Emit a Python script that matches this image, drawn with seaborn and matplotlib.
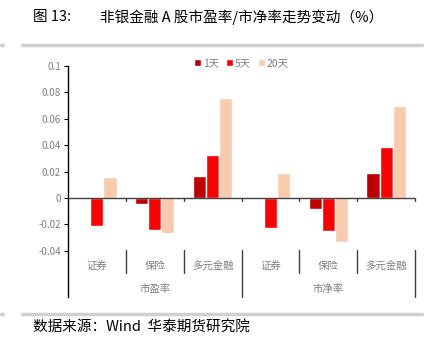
import matplotlib
matplotlib.use("Agg")
import matplotlib.pyplot as plt
import seaborn as sns
import pandas as pd
import numpy as np

groups = ["市盈率", "市净率"]
subcats = ["证券", "保险", "多元金融"]
periods = ["1天", "5天", "20天"]
val_1d = [0.001, -0.0045, 0.017, 0.0, -0.0083, 0.019]
val_5d = [-0.0213, -0.024, 0.0326, -0.023, -0.0248, 0.039]
val_20d = [0.016, -0.0266, 0.0755, 0.019, -0.033, 0.070]
yticks = [-0.04, -0.02, 0, 0.02, 0.04, 0.06, 0.08, 0.1]
ytick_labels = ["-0.04", "-0.02", "0", "0.02", "0.04", "0.06", "0.08", "0.1"]
colors = ["#C00000", "#FF0000", "#F8CBAD"]

cats = [f"{g}-{s}" for g in groups for s in subcats]
rows = []
for p, vals in zip(periods, [val_1d, val_5d, val_20d]):
    for c, v in zip(cats, vals):
        rows.append({"cat": c, "period": p, "val": v})
df = pd.DataFrame(rows)

sns.set_style("white")
plt.rcParams['font.family'] = ['Noto Sans CJK SC', 'DejaVu Sans']

W, H = 436, 353
fig = plt.figure(figsize=(W / 100, H / 100), dpi=100)
ax = fig.add_axes([68 / W, (H - 297) / H, (415 - 68) / W, (297 - 66) / H])

sns.barplot(data=df, x="cat", y="val", hue="period", order=cats, hue_order=periods,
            palette=colors, width=0.68, ax=ax, legend=True, saturation=1)

ax.set_ylim(-0.075, 0.1)
ax.set_xlim(-0.5, len(cats) - 0.5)
ax.set_yticks(yticks)
ax.set_yticklabels(ytick_labels)
ax.tick_params(axis="y", direction="out", length=3, width=0.8, color="#000000",
               labelsize=7, labelcolor="#7F7F7F", pad=2, left=True)
ax.set_xticks([])
ax.set_xlabel("")
ax.set_ylabel("")
for s in ["top", "right", "bottom"]:
    ax.spines[s].set_visible(False)
ax.spines["left"].set_color("#000000")
ax.spines["left"].set_linewidth(1.0)

ax.axhline(0, color="#404040", lw=1.0, zorder=3)
px = 0.175 / 231  # data units per pixel
for i in range(1, len(cats) + 1):
    xb = i - 0.5
    ax.plot([xb, xb], [0, -3 * px], color="#404040", lw=1.0, clip_on=False)
    bottom = -0.075 if i % 3 == 0 else -(273 - 198) * px
    ax.plot([xb, xb], [-(250 - 198) * px, bottom], color="#404040", lw=1.0, clip_on=False)

for i, c in enumerate(cats):
    ax.text(i, -(266 - 198) * px, c.split("-")[1], ha="center", va="center",
            fontsize=7.5, color="#7F7F7F")
for gi, g in enumerate(groups):
    ax.text(gi * 3 + 1, -(289 - 198) * px, g, ha="center", va="center",
            fontsize=7.5, color="#7F7F7F")

leg = ax.legend(loc="upper center", bbox_to_anchor=(0.5, 1.075), ncol=3, frameon=False,
                fontsize=7.5, handlelength=0.7, handleheight=0.7, handletextpad=0.2,
                columnspacing=0.6, labelcolor="#7F7F7F")

fig.text(33 / W, 1 - 17 / H, "图 13:", ha="left", va="center", fontsize=10.5, color="#000000")
fig.text(100 / W, 1 - 17 / H, "非银金融 A 股市盈率/市净率走势变动（%）",
         ha="left", va="center", fontsize=10.5, color="#000000")
fig.text(33 / W, 1 - 327 / H, "数据来源：Wind  华泰期货研究院",
         ha="left", va="center", fontsize=10.5, color="#000000")

for yy in [45, 314]:
    fig.add_artist(plt.Line2D([22 / W, 422 / W], [1 - yy / H, 1 - yy / H],
                              color="#D0D0D0", lw=2.5))
    fig.add_artist(plt.Line2D([0, 3 / W], [1 - yy / H, 1 - yy / H],
                              color="#D0D0D0", lw=2.5))

fig.savefig("out.png", dpi=100)
